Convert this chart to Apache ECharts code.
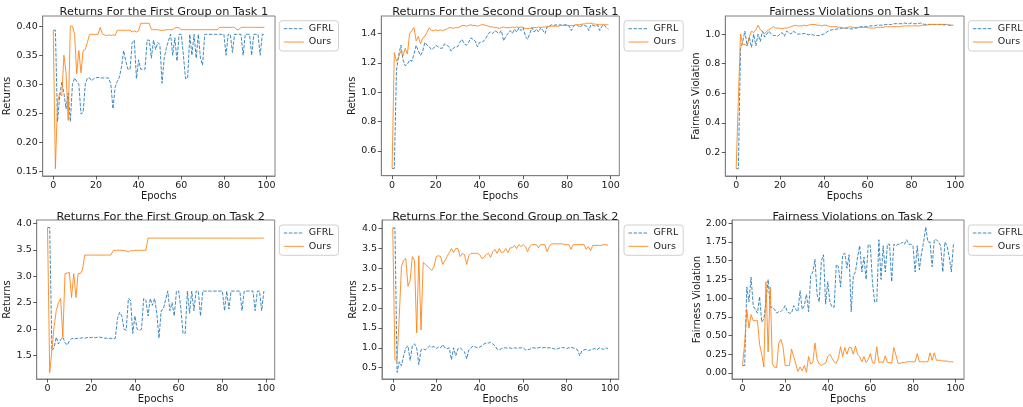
<!DOCTYPE html>
<html>
<head>
<meta charset="utf-8">
<script src="https://cdn.jsdelivr.net/npm/echarts@6/dist/echarts.min.js"></script>
<style>
html,body{margin:0;padding:0;background:#fff;}
#chart{width:1023px;height:407px;}
</style>
</head>
<body>
<div id="chart"></div>
<script>
// ---------- DATA ----------
const epochs = [0,1,2,3,4,5,6,7,8,9,10,11,12,13,14,15,16,17,18,19,20,21,22,23,24,25,26,27,28,29,30,31,32,33,34,35,36,37,38,39,40,41,42,43,44,45,46,47,48,49,50,51,52,53,54,55,56,57,58,59,60,61,62,63,64,65,66,67,68,69,70,71,72,73,74,75,76,77,78,79,80,81,82,83,84,85,86,87,88,89,90,91,92,93,94,95,96,97,98,99];
const seriesNames = ["GFRL", "Ours"];
const titles = [
  "Returns For the First Group on Task 1",
  "Returns For the Second Group on Task 1",
  "Fairness Violations on Task 1",
  "Returns For the First Group on Task 2",
  "Returns For the Second Group on Task 2",
  "Fairness Violations on Task 2"
];
const yNames = ["Returns", "Returns", "Fairness Violation", "Returns", "Returns", "Fairness Violation"];
const xName = "Epochs";
const xTicks = [0, 20, 40, 60, 80, 100];
const yTicks1 = [0.15, 0.20, 0.25, 0.30, 0.35, 0.40];
const yTicks2 = [0.6, 0.8, 1.0, 1.2, 1.4];
const yTicks3 = [0.2, 0.4, 0.6, 0.8, 1.0];
const yTicks4 = [1.5, 2.0, 2.5, 3.0, 3.5, 4.0];
const yTicks5 = [0.5, 1.0, 1.5, 2.0, 2.5, 3.0, 3.5, 4.0];
const yTicks6 = [0.00, 0.25, 0.50, 0.75, 1.00, 1.25, 1.50, 1.75, 2.00];

const t1g1GFRL = [0.393,0.393,0.236,0.280,0.304,0.285,0.258,0.285,0.236,0.300,
  0.311,0.305,0.300,0.249,0.252,0.300,0.311,0.311,0.306,0.310,
  0.311,0.312,0.311,0.311,0.311,0.311,0.311,0.300,0.258,0.295,
  0.305,0.312,0.330,0.358,0.340,0.326,0.326,0.372,0.376,0.310,
  0.342,0.326,0.326,0.326,0.376,0.376,0.345,0.376,0.360,0.372,
  0.368,0.302,0.345,0.362,0.375,0.386,0.350,0.380,0.340,0.386,
  0.386,0.350,0.310,0.310,0.386,0.350,0.386,0.345,0.386,0.345,
  0.333,0.386,0.386,0.386,0.386,0.386,0.386,0.386,0.386,0.386,
  0.386,0.350,0.386,0.386,0.355,0.386,0.386,0.386,0.386,0.350,
  0.386,0.386,0.386,0.350,0.386,0.386,0.386,0.350,0.386,0.386];
const t1g1Ours = [0.393,0.155,0.270,0.285,0.280,0.350,0.320,0.238,0.400,0.400,
  0.386,0.318,0.358,0.320,0.358,0.360,0.372,0.386,0.386,0.386,
  0.386,0.386,0.398,0.387,0.385,0.384,0.385,0.384,0.385,0.384,
  0.393,0.393,0.393,0.393,0.393,0.393,0.393,0.390,0.392,0.390,
  0.392,0.405,0.405,0.405,0.405,0.405,0.394,0.394,0.394,0.394,
  0.393,0.393,0.393,0.394,0.394,0.394,0.394,0.397,0.398,0.397,
  0.394,0.394,0.394,0.394,0.394,0.394,0.394,0.394,0.394,0.394,
  0.394,0.394,0.394,0.394,0.394,0.394,0.394,0.394,0.398,0.398,
  0.398,0.398,0.398,0.398,0.398,0.398,0.394,0.394,0.398,0.398,
  0.398,0.398,0.398,0.398,0.398,0.398,0.398,0.398,0.398,0.398];

const t1g2GFRL = [0.48,0.48,1.15,1.25,1.32,1.22,1.18,1.19,1.22,1.21,
  1.26,1.32,1.28,1.25,1.28,1.34,1.32,1.31,1.29,1.30,
  1.32,1.31,1.30,1.30,1.33,1.32,1.31,1.28,1.30,1.31,
  1.31,1.34,1.36,1.33,1.32,1.34,1.37,1.36,1.35,1.31,
  1.34,1.34,1.35,1.37,1.40,1.41,1.40,1.42,1.41,1.40,
  1.42,1.35,1.38,1.40,1.42,1.40,1.43,1.41,1.44,1.42,
  1.44,1.38,1.36,1.40,1.44,1.41,1.43,1.41,1.44,1.42,
  1.40,1.45,1.45,1.46,1.455,1.46,1.455,1.46,1.455,1.46,
  1.46,1.45,1.42,1.45,1.46,1.455,1.44,1.46,1.455,1.45,
  1.42,1.46,1.455,1.45,1.46,1.42,1.45,1.46,1.44,1.43];
const t1g2Ours = [0.48,1.27,1.21,1.24,1.28,1.25,1.30,1.26,1.40,1.42,
  1.44,1.35,1.38,1.33,1.37,1.38,1.41,1.44,1.42,1.42,
  1.425,1.42,1.425,1.42,1.425,1.43,1.44,1.44,1.435,1.44,
  1.44,1.445,1.455,1.455,1.45,1.455,1.46,1.455,1.455,1.45,
  1.455,1.46,1.46,1.455,1.45,1.445,1.445,1.44,1.44,1.435,
  1.44,1.445,1.44,1.44,1.44,1.445,1.44,1.445,1.44,1.445,
  1.44,1.435,1.435,1.435,1.44,1.44,1.44,1.445,1.44,1.445,
  1.445,1.445,1.45,1.45,1.45,1.45,1.45,1.455,1.455,1.455,
  1.455,1.455,1.455,1.455,1.46,1.46,1.46,1.465,1.465,1.47,
  1.47,1.47,1.465,1.465,1.46,1.46,1.46,1.46,1.46,1.46];

const t1fvGFRL = [0.09,0.09,0.90,0.95,1.02,0.92,0.98,0.91,1.00,0.92,
  1.00,0.95,1.02,0.98,1.00,1.02,1.00,0.99,0.99,0.985,
  1.00,1.01,0.985,1.02,1.01,1.00,1.02,1.01,1.00,1.00,
  1.00,1.005,1.00,0.995,1.00,0.995,0.99,0.99,0.99,0.995,
  1.00,1.01,1.02,1.025,1.03,1.03,1.035,1.035,1.04,1.04,
  1.04,1.04,1.035,1.035,1.04,1.04,1.045,1.05,1.05,1.05,
  1.05,1.055,1.055,1.055,1.06,1.06,1.06,1.06,1.065,1.065,
  1.065,1.065,1.07,1.07,1.07,1.07,1.07,1.075,1.07,1.07,
  1.075,1.07,1.07,1.07,1.075,1.07,1.065,1.065,1.065,1.065,
  1.065,1.065,1.065,1.065,1.065,1.065,1.065,1.06,1.06,1.06];
const t1fvOurs = [0.09,0.55,1.00,0.93,0.93,0.92,0.98,1.02,1.01,1.03,
  1.06,1.03,1.02,1.00,1.02,1.03,1.04,1.05,1.04,1.04,
  1.04,1.035,1.04,1.04,1.045,1.05,1.055,1.06,1.055,1.055,
  1.055,1.06,1.055,1.06,1.065,1.065,1.065,1.06,1.06,1.055,
  1.06,1.06,1.055,1.05,1.05,1.05,1.05,1.045,1.045,1.04,
  1.04,1.045,1.05,1.045,1.045,1.045,1.045,1.045,1.045,1.045,
  1.045,1.04,1.04,1.04,1.045,1.045,1.045,1.045,1.05,1.05,
  1.05,1.05,1.05,1.05,1.05,1.05,1.055,1.055,1.055,1.055,
  1.055,1.055,1.055,1.055,1.055,1.06,1.06,1.06,1.065,1.065,
  1.065,1.065,1.065,1.065,1.065,1.06,1.065,1.06,1.06,1.06];

const t2g1GFRL = [3.92,3.92,1.60,1.65,1.85,1.72,1.80,1.85,1.75,1.70,
  1.78,1.82,1.83,1.82,1.83,1.83,1.84,1.83,1.84,1.85,
  1.84,1.85,1.84,1.85,1.85,1.84,1.83,1.83,1.82,1.83,
  1.82,1.83,2.20,2.32,2.25,2.00,1.98,2.58,2.55,1.92,
  2.25,2.00,1.98,2.00,2.58,2.55,2.25,2.58,2.45,2.58,
  2.30,1.83,2.35,2.38,2.55,2.72,2.35,2.50,2.25,2.72,
  2.72,2.40,1.92,1.92,2.72,2.30,2.72,2.35,2.72,2.72,
  2.25,2.72,2.72,2.72,2.72,2.72,2.72,2.72,2.72,2.72,
  2.72,2.35,2.72,2.38,2.72,2.72,2.72,2.72,2.72,2.35,
  2.72,2.72,2.72,2.72,2.72,2.35,2.72,2.72,2.35,2.72];
const t2g1Ours = [3.92,1.18,1.60,2.05,2.35,2.50,2.58,1.85,3.05,3.06,
  3.07,2.60,3.05,2.60,3.05,3.05,3.12,3.40,3.40,3.40,
  3.40,3.40,3.40,3.40,3.40,3.40,3.40,3.40,3.40,3.40,
  3.48,3.49,3.49,3.49,3.49,3.48,3.48,3.46,3.48,3.48,
  3.49,3.49,3.49,3.49,3.49,3.49,3.72,3.72,3.72,3.72,
  3.72,3.72,3.72,3.72,3.72,3.72,3.72,3.72,3.72,3.72,
  3.72,3.72,3.72,3.72,3.72,3.72,3.72,3.72,3.72,3.72,
  3.72,3.72,3.72,3.72,3.72,3.72,3.72,3.72,3.72,3.72,
  3.72,3.72,3.72,3.72,3.72,3.72,3.72,3.72,3.72,3.72,
  3.72,3.72,3.72,3.72,3.72,3.72,3.72,3.72,3.72,3.72];

const t2g2GFRL = [4.02,4.02,0.38,0.65,0.55,0.80,1.00,1.05,0.68,1.05,
  1.10,1.00,0.58,0.95,0.97,0.95,1.00,1.05,1.02,1.03,
  0.98,1.02,1.00,1.08,1.00,0.98,1.00,0.70,1.00,0.80,
  0.98,1.00,0.95,0.90,0.72,0.95,1.00,1.05,1.02,1.00,
  1.02,1.05,1.10,1.12,1.12,1.14,1.10,1.05,0.97,0.95,
  0.98,1.00,1.00,0.99,1.00,0.98,1.00,0.99,1.00,1.00,
  1.00,0.95,0.96,0.96,1.00,1.00,0.99,1.00,1.01,1.00,
  1.01,1.00,1.00,0.99,0.98,0.96,0.98,1.00,1.01,1.00,
  0.98,1.00,1.01,1.00,0.98,0.95,0.80,0.92,0.95,0.96,
  0.93,0.95,0.97,0.98,0.95,1.00,0.98,0.96,1.00,0.98];
const t2g2Ours = [4.02,0.70,0.68,1.80,3.05,3.20,3.25,2.55,2.70,3.30,
  3.20,1.38,3.32,1.45,3.15,3.10,3.05,3.00,2.95,3.05,
  3.30,3.32,3.30,3.10,3.20,3.30,3.40,3.50,3.40,3.50,
  3.50,3.30,3.38,3.35,3.10,3.32,3.38,3.38,3.38,3.38,
  3.35,3.25,3.28,3.35,3.38,3.28,3.42,3.48,3.38,3.50,
  3.40,3.42,3.50,3.40,3.52,3.52,3.58,3.50,3.60,3.55,
  3.60,3.55,3.42,3.55,3.60,3.60,3.60,3.52,3.60,3.60,
  3.60,3.42,3.55,3.62,3.62,3.62,3.62,3.62,3.62,3.60,
  3.60,3.60,3.48,3.60,3.60,3.60,3.60,3.60,3.60,3.48,
  3.55,3.45,3.58,3.58,3.58,3.58,3.58,3.60,3.60,3.58];

const t2fvGFRL = [0.10,0.10,1.15,0.95,1.28,0.90,0.85,0.80,1.02,0.68,
  0.72,0.95,1.25,0.88,0.88,0.85,0.80,0.82,0.82,0.85,
  0.90,0.82,0.80,0.80,0.90,0.85,0.82,1.10,0.85,0.90,
  1.05,0.82,1.30,1.35,1.52,1.05,0.95,1.50,1.58,0.92,
  1.22,0.95,0.88,0.88,1.45,1.42,1.15,1.58,1.60,1.40,
  1.58,0.82,1.30,1.35,1.55,1.70,1.35,1.55,1.25,1.72,
  1.70,1.20,0.95,0.95,1.78,1.25,1.70,1.35,1.72,1.72,
  1.22,1.72,1.70,1.72,1.72,1.75,1.72,1.78,1.72,1.72,
  1.70,1.35,1.70,1.38,1.60,1.75,1.95,1.75,1.75,1.42,
  1.78,1.78,1.75,1.70,1.35,1.75,1.70,1.55,1.35,1.72];
const t2fvOurs = [0.10,0.40,0.85,0.60,0.78,0.70,0.70,0.70,0.38,0.25,
  0.08,1.22,0.28,1.15,0.12,0.08,0.07,0.40,0.45,0.35,
  0.10,0.10,0.10,0.32,0.22,0.12,0.02,0.08,0.03,0.10,
  0.01,0.22,0.12,0.14,0.40,0.18,0.12,0.10,0.12,0.13,
  0.22,0.25,0.20,0.15,0.13,0.20,0.35,0.22,0.34,0.25,
  0.34,0.34,0.25,0.36,0.25,0.22,0.15,0.22,0.14,0.18,
  0.26,0.14,0.13,0.35,0.14,0.15,0.14,0.23,0.14,0.14,
  0.13,0.34,0.24,0.13,0.13,0.14,0.14,0.15,0.15,0.15,
  0.15,0.15,0.26,0.15,0.15,0.15,0.15,0.15,0.27,0.17,
  0.27,0.17,0.17,0.17,0.16,0.16,0.16,0.15,0.15,0.15];

// ---------- LAYOUT ----------
const panels = [
  {g:[42.7,16,232.3,160], y:[0.1425,0.4175], ticks:yTicks1, dec:2, gfrl:t1g1GFRL, ours:t1g1Ours, nameGap:27, lg:[279.3,20.7]},
  {g:[381.3,16,238,159.7], y:[0.4305,1.5195], ticks:yTicks2, dec:1, gfrl:t1g2GFRL, ours:t1g2Ours, nameGap:20.5, lg:[624,20.7]},
  {g:[725.3,16,238.7,160], y:[0.041,1.122], ticks:yTicks3, dec:1, gfrl:t1fvGFRL, ours:t1fvOurs, nameGap:20.5, lg:[968.3,20.7]},
  {g:[36.7,220,238,159], y:[1.06,4.062], ticks:yTicks4, dec:1, gfrl:t2g1GFRL, ours:t2g1Ours, nameGap:20.7, lg:[279.3,225]},
  {g:[382,220,236.7,159], y:[0.215,4.22], ticks:yTicks5, dec:1, gfrl:t2g2GFRL, ours:t2g2Ours, nameGap:21, lg:[624,225]},
  {g:[732,220,232,159], y:[-0.08,2.044], ticks:yTicks6, dec:2, gfrl:t2fvGFRL, ours:t2fvOurs, nameGap:27, lg:[968.3,225]}
];
const FONT = 'DejaVu Sans';
const TXT = '#1a1a1a';
const SPINE = '#808080';
const BLUE = '#1f77b4';
const ORANGE = '#ff7f0e';

const grid = [], xAxis = [], yAxis = [], series = [], title = [], legend = [];
panels.forEach((p, i) => {
  const [l, t, w, h] = p.g;
  grid.push({left:l, top:t, width:w, height:h, show:true, borderColor:SPINE, borderWidth:1, containLabel:false});
  xAxis.push({
    type:'value', gridIndex:i, min:-4.95, max:103.95,
    name:xName, nameLocation:'middle', nameGap: i < 3 ? 12.5 : 14,
    nameTextStyle:{fontFamily:FONT, fontSize:10, color:TXT},
    axisLine:{show:true, onZero:false, lineStyle:{color:SPINE, width:1}},
    axisTick:{show:true, length:3.5, customValues:xTicks, lineStyle:{color:'#333', width:0.8}},
    axisLabel:{customValues:xTicks, margin:5, fontFamily:FONT, fontSize:9.5, color:TXT},
    splitLine:{show:false}
  });
  yAxis.push({
    type:'value', gridIndex:i, min:p.y[0], max:p.y[1],
    name:yNames[i], nameLocation:'middle', nameGap:p.nameGap, nameRotate:90,
    nameTextStyle:{fontFamily:FONT, fontSize:10, color:TXT},
    axisLine:{show:true, onZero:false, lineStyle:{color:SPINE, width:1}},
    axisTick:{show:true, length:3.5, customValues:p.ticks, lineStyle:{color:'#333', width:0.8}},
    axisLabel:{customValues:p.ticks, margin:5, fontFamily:FONT, fontSize:9.5, color:TXT,
      formatter:(v) => Number(v).toFixed(p.dec)},
    splitLine:{show:false}
  });
  series.push({
    name:seriesNames[0], type:'line', xAxisIndex:i, yAxisIndex:i,
    data:epochs.map((e, k) => [e, p.gfrl[k]]),
    symbol:'none', smooth:false, animation:false,
    lineStyle:{color:BLUE, width:1, type:[3.5,1.5], opacity:0.85},
    itemStyle:{color:BLUE}
  });
  series.push({
    name:seriesNames[1], type:'line', xAxisIndex:i, yAxisIndex:i,
    data:epochs.map((e, k) => [e, p.ours[k]]),
    symbol:'none', smooth:false, animation:false,
    lineStyle:{color:ORANGE, width:1, opacity:0.85},
    itemStyle:{color:ORANGE}
  });
  title.push({
    text:titles[i], left:l + w/2, top: i < 3 ? 2 : 207, textAlign:'center',
    textStyle:{fontFamily:FONT, fontSize:11.3, fontWeight:'normal', color:TXT}
  });
  legend.push({
    data:seriesNames, orient:'vertical', left:p.lg[0], top:p.lg[1],
    itemWidth:20, itemHeight:11, itemGap:3.3, padding:[3,5,4,4],
    borderColor:'#d0d0d0', borderWidth:1, borderRadius:3, backgroundColor:'#fff',
    textStyle:{fontFamily:FONT, fontSize:9.5, color:TXT},
    itemStyle:{opacity:0},
    lineStyle:{width:1},
    selectedMode:false
  });
});

const chart = echarts.init(document.getElementById('chart'), null, {renderer:'canvas'});
chart.setOption({animation:false, backgroundColor:'#fff', grid, xAxis, yAxis, series, title, legend});
</script>
</body>
</html>
